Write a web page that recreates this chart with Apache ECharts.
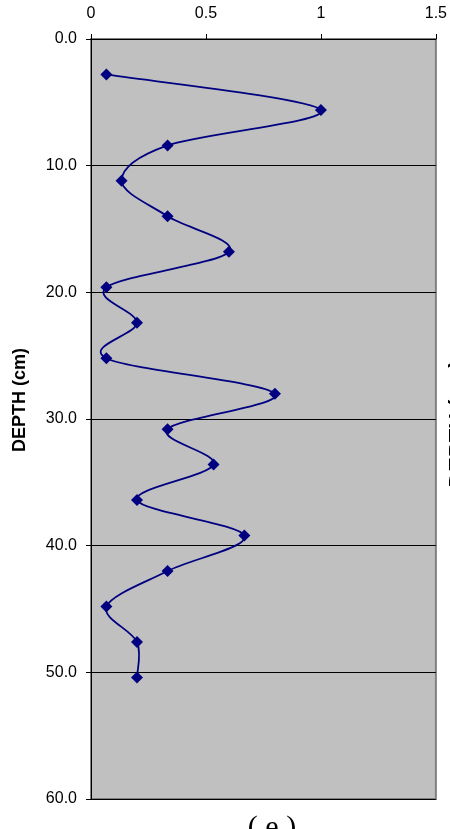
<!DOCTYPE html>
<html>
<head>
<meta charset="utf-8">
<script src="https://cdn.jsdelivr.net/npm/echarts@6/dist/echarts.min.js"></script>
<style>
  html, body { margin: 0; padding: 0; background: #fff; }
  #chart { width: 450px; height: 829px; }
</style>
</head>
<body>
<div id="chart"></div>
<script>
// Depth profile: concentration against sample depth
const depths = [2.8, 5.6, 8.4, 11.2, 14.0, 16.8, 19.6, 22.4, 25.2, 28.0, 30.8, 33.6, 36.4, 39.2, 42.0, 44.8, 47.6, 50.4];
const values = [0.067, 1.0, 0.333, 0.133, 0.333, 0.6, 0.067, 0.2, 0.067, 0.8, 0.333, 0.533, 0.2, 0.667, 0.333, 0.067, 0.2, 0.2];
const xTicks = [0, 0.5, 1, 1.5];
const yTicks = [0, 10, 20, 30, 40, 50, 60];

const chart = echarts.init(document.getElementById('chart'), null, { renderer: 'canvas' });

const points = depths.map((d, i) => [values[i], d]);
const labelFont = 'Liberation Sans, Arial, sans-serif';
const lineColor = '#000080';

// Smoothed curve: one cubic Bezier per segment, Catmull-Rom style tangents
// taken from the neighbouring points in screen space.
function renderSegment(params, api) {
  const i = params.dataIndex;
  const n = points.length;
  if (i >= n - 1) return null;
  const P = k => api.coord(points[Math.max(0, Math.min(n - 1, k))]);
  const p0 = P(i - 1), p1 = P(i), p2 = P(i + 1), p3 = P(i + 2);
  const t = 1 / 6;
  return {
    type: 'bezierCurve',
    shape: {
      x1: p1[0], y1: p1[1],
      x2: p2[0], y2: p2[1],
      cpx1: p1[0] + (p2[0] - p0[0]) * t,
      cpy1: p1[1] + (p2[1] - p0[1]) * t,
      cpx2: p2[0] - (p3[0] - p1[0]) * t,
      cpy2: p2[1] - (p3[1] - p1[1]) * t
    },
    style: { stroke: lineColor, lineWidth: 1.8, fill: null }
  };
}

chart.setOption({
  animation: false,
  backgroundColor: '#ffffff',
  grid: {
    left: 91, top: 39, width: 346, height: 760,
    show: true,
    backgroundColor: '#C0C0C0',
    borderColor: '#808080',
    borderWidth: 2
  },
  xAxis: {
    type: 'value',
    position: 'top',
    min: xTicks[0],
    max: xTicks[xTicks.length - 1],
    interval: 0.5,
    axisLine: { show: true, lineStyle: { color: '#000', width: 1 } },
    axisTick: { show: true, inside: false, length: 5, lineStyle: { color: '#000' } },
    axisLabel: {
      margin: 17,
      color: '#000',
      fontFamily: labelFont,
      fontSize: 16,
      formatter: v => String(v)
    },
    splitLine: { show: false }
  },
  yAxis: {
    type: 'value',
    inverse: true,
    min: yTicks[0],
    max: yTicks[yTicks.length - 1],
    interval: 10,
    axisLine: { show: true, lineStyle: { color: '#000', width: 1 } },
    axisTick: { show: true, inside: false, length: 5, lineStyle: { color: '#000' } },
    axisLabel: {
      margin: 14,
      color: '#000',
      fontFamily: labelFont,
      fontSize: 16,
      formatter: v => v.toFixed(1)
    },
    splitLine: {
      show: true,
      interval: (i, v) => v > 0 && v < 60,
      lineStyle: { color: '#000', width: 1 }
    }
  },
  series: [
    {
      type: 'custom',
      data: points,
      encode: { x: 0, y: 1 },
      renderItem: renderSegment,
      z: 2
    },
    {
      type: 'scatter',
      data: points,
      symbol: 'diamond',
      symbolSize: 12,
      itemStyle: { color: lineColor, opacity: 1 },
      z: 3
    }
  ],
  graphic: [
    {
      type: 'text',
      x: 20, y: 400,
      rotation: Math.PI / 2,
      style: {
        text: 'DEPTH (cm)',
        fill: '#000',
        font: 'bold 18px "Liberation Sans", Arial, sans-serif',
        align: 'center',
        verticalAlign: 'middle'
      }
    },
    {
      type: 'text',
      x: 458, y: 424,
      rotation: Math.PI / 2,
      style: {
        text: 'DEPTH (cm)',
        fill: '#000',
        font: 'bold 22px "Liberation Sans", Arial, sans-serif',
        align: 'center',
        verticalAlign: 'middle'
      }
    },
    {
      type: 'text',
      x: 272, y: 813,
      style: {
        text: '( e )',
        fill: '#000',
        font: '30px "Liberation Serif", "Times New Roman", serif',
        align: 'center',
        verticalAlign: 'top'
      }
    }
  ]
});
</script>
</body>
</html>
